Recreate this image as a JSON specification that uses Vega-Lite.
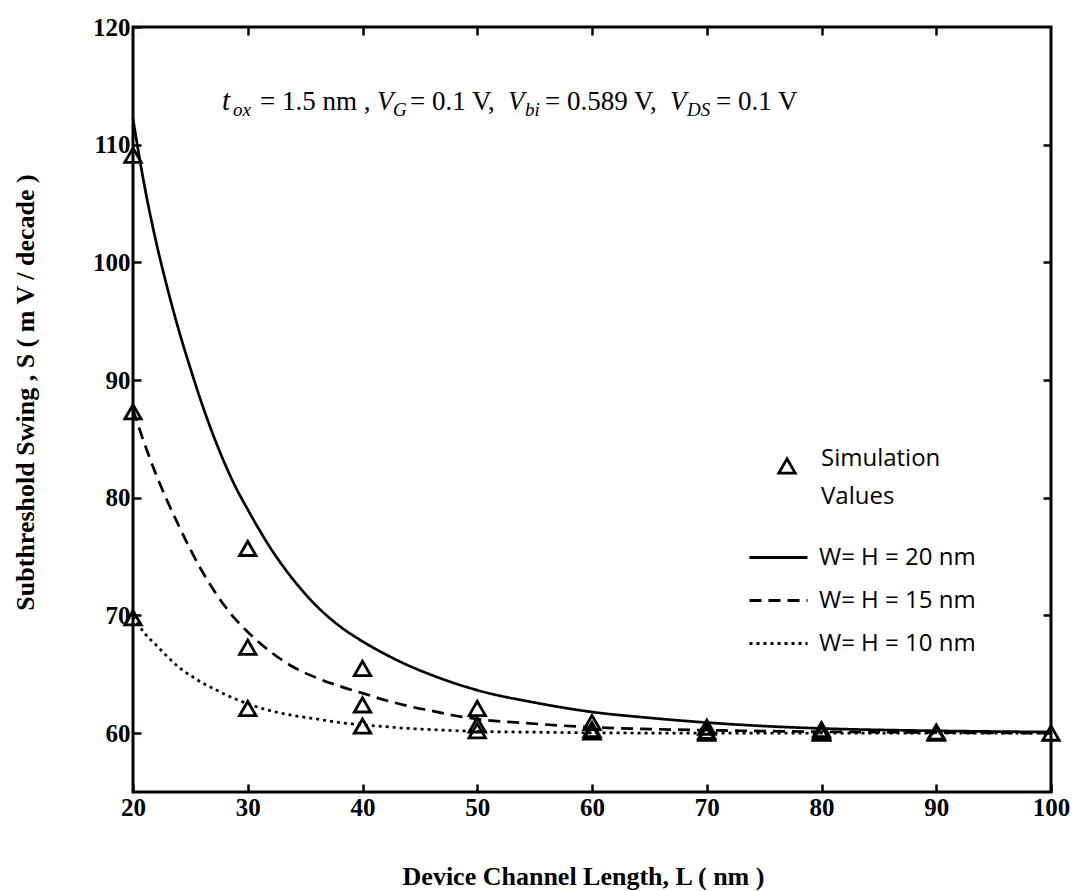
{
  "$schema": "https://vega.github.io/schema/vega-lite/v6.json",
  "width": 918,
  "height": 765,
  "autosize": {"type": "none"},
  "padding": {"left": 133, "top": 27, "right": 22, "bottom": 99},
  "background": "white",
  "config": {
    "view": {"stroke": "black", "strokeWidth": 3},
    "axis": {
      "domain": false,
      "grid": false,
      "tickColor": "black",
      "tickWidth": 2.5,
      "tickSize": -8,
      "labelFont": "Liberation Serif",
      "labelFontWeight": "bold",
      "labelFontSize": 25,
      "labelColor": "black",
      "titleFont": "Liberation Serif",
      "titleFontWeight": "bold",
      "titleColor": "black"
    },
    "legend": {"padding": 0},
    "style": {"guide-label": {"lineHeight": 38}}
  },
  "datasets": {
    "curves": [
      {"L": 20, "S": 112.2, "series": "W= H = 20 nm"},
      {"L": 21, "S": 106.5, "series": "W= H = 20 nm"},
      {"L": 22, "S": 101.8, "series": "W= H = 20 nm"},
      {"L": 23, "S": 97.8, "series": "W= H = 20 nm"},
      {"L": 24, "S": 94.2, "series": "W= H = 20 nm"},
      {"L": 25, "S": 91.0, "series": "W= H = 20 nm"},
      {"L": 26, "S": 88.0, "series": "W= H = 20 nm"},
      {"L": 27, "S": 85.3, "series": "W= H = 20 nm"},
      {"L": 28, "S": 82.9, "series": "W= H = 20 nm"},
      {"L": 29, "S": 80.8, "series": "W= H = 20 nm"},
      {"L": 30, "S": 79.0, "series": "W= H = 20 nm"},
      {"L": 32, "S": 75.7, "series": "W= H = 20 nm"},
      {"L": 34, "S": 73.0, "series": "W= H = 20 nm"},
      {"L": 36, "S": 70.8, "series": "W= H = 20 nm"},
      {"L": 38, "S": 69.1, "series": "W= H = 20 nm"},
      {"L": 40, "S": 67.8, "series": "W= H = 20 nm"},
      {"L": 42, "S": 66.7, "series": "W= H = 20 nm"},
      {"L": 44, "S": 65.75, "series": "W= H = 20 nm"},
      {"L": 46, "S": 64.95, "series": "W= H = 20 nm"},
      {"L": 48, "S": 64.25, "series": "W= H = 20 nm"},
      {"L": 50, "S": 63.65, "series": "W= H = 20 nm"},
      {"L": 55, "S": 62.6, "series": "W= H = 20 nm"},
      {"L": 60, "S": 61.8, "series": "W= H = 20 nm"},
      {"L": 65, "S": 61.3, "series": "W= H = 20 nm"},
      {"L": 70, "S": 60.9, "series": "W= H = 20 nm"},
      {"L": 75, "S": 60.6, "series": "W= H = 20 nm"},
      {"L": 80, "S": 60.4, "series": "W= H = 20 nm"},
      {"L": 90, "S": 60.2, "series": "W= H = 20 nm"},
      {"L": 100, "S": 60.1, "series": "W= H = 20 nm"},
      {"L": 20, "S": 87.5, "series": "W= H = 15 nm"},
      {"L": 21, "S": 84.6, "series": "W= H = 15 nm"},
      {"L": 22, "S": 82.0, "series": "W= H = 15 nm"},
      {"L": 23, "S": 79.7, "series": "W= H = 15 nm"},
      {"L": 24, "S": 77.6, "series": "W= H = 15 nm"},
      {"L": 25, "S": 75.6, "series": "W= H = 15 nm"},
      {"L": 26, "S": 73.8, "series": "W= H = 15 nm"},
      {"L": 27, "S": 72.2, "series": "W= H = 15 nm"},
      {"L": 28, "S": 70.8, "series": "W= H = 15 nm"},
      {"L": 29, "S": 69.6, "series": "W= H = 15 nm"},
      {"L": 30, "S": 68.6, "series": "W= H = 15 nm"},
      {"L": 32, "S": 66.9, "series": "W= H = 15 nm"},
      {"L": 34, "S": 65.6, "series": "W= H = 15 nm"},
      {"L": 36, "S": 64.7, "series": "W= H = 15 nm"},
      {"L": 38, "S": 64.0, "series": "W= H = 15 nm"},
      {"L": 40, "S": 63.4, "series": "W= H = 15 nm"},
      {"L": 42, "S": 62.8, "series": "W= H = 15 nm"},
      {"L": 44, "S": 62.3, "series": "W= H = 15 nm"},
      {"L": 46, "S": 61.9, "series": "W= H = 15 nm"},
      {"L": 48, "S": 61.5, "series": "W= H = 15 nm"},
      {"L": 50, "S": 61.2, "series": "W= H = 15 nm"},
      {"L": 55, "S": 60.8, "series": "W= H = 15 nm"},
      {"L": 60, "S": 60.5, "series": "W= H = 15 nm"},
      {"L": 65, "S": 60.35, "series": "W= H = 15 nm"},
      {"L": 70, "S": 60.25, "series": "W= H = 15 nm"},
      {"L": 80, "S": 60.12, "series": "W= H = 15 nm"},
      {"L": 90, "S": 60.05, "series": "W= H = 15 nm"},
      {"L": 100, "S": 60.0, "series": "W= H = 15 nm"},
      {"L": 20, "S": 69.9, "series": "W= H = 10 nm"},
      {"L": 21, "S": 68.5, "series": "W= H = 10 nm"},
      {"L": 22, "S": 67.5, "series": "W= H = 10 nm"},
      {"L": 23, "S": 66.5, "series": "W= H = 10 nm"},
      {"L": 24, "S": 65.6, "series": "W= H = 10 nm"},
      {"L": 25, "S": 64.9, "series": "W= H = 10 nm"},
      {"L": 26, "S": 64.3, "series": "W= H = 10 nm"},
      {"L": 27, "S": 63.8, "series": "W= H = 10 nm"},
      {"L": 28, "S": 63.3, "series": "W= H = 10 nm"},
      {"L": 30, "S": 62.5, "series": "W= H = 10 nm"},
      {"L": 32, "S": 61.9, "series": "W= H = 10 nm"},
      {"L": 34, "S": 61.5, "series": "W= H = 10 nm"},
      {"L": 36, "S": 61.2, "series": "W= H = 10 nm"},
      {"L": 38, "S": 60.9, "series": "W= H = 10 nm"},
      {"L": 40, "S": 60.7, "series": "W= H = 10 nm"},
      {"L": 42, "S": 60.55, "series": "W= H = 10 nm"},
      {"L": 44, "S": 60.4, "series": "W= H = 10 nm"},
      {"L": 46, "S": 60.3, "series": "W= H = 10 nm"},
      {"L": 50, "S": 60.15, "series": "W= H = 10 nm"},
      {"L": 55, "S": 60.08, "series": "W= H = 10 nm"},
      {"L": 60, "S": 60.03, "series": "W= H = 10 nm"},
      {"L": 70, "S": 60.0, "series": "W= H = 10 nm"},
      {"L": 80, "S": 60.0, "series": "W= H = 10 nm"},
      {"L": 90, "S": 60.0, "series": "W= H = 10 nm"},
      {"L": 100, "S": 60.0, "series": "W= H = 10 nm"}
    ],
    "sim": [
      {"L": 20, "S": 109.1, "kind": "Simulation Values"},
      {"L": 20, "S": 87.3, "kind": "Simulation Values"},
      {"L": 20, "S": 69.8, "kind": "Simulation Values"},
      {"L": 30, "S": 75.7, "kind": "Simulation Values"},
      {"L": 30, "S": 67.3, "kind": "Simulation Values"},
      {"L": 30, "S": 62.1, "kind": "Simulation Values"},
      {"L": 40, "S": 65.5, "kind": "Simulation Values"},
      {"L": 40, "S": 62.4, "kind": "Simulation Values"},
      {"L": 40, "S": 60.6, "kind": "Simulation Values"},
      {"L": 50, "S": 62.1, "kind": "Simulation Values"},
      {"L": 50, "S": 60.7, "kind": "Simulation Values"},
      {"L": 50, "S": 60.2, "kind": "Simulation Values"},
      {"L": 60, "S": 60.9, "kind": "Simulation Values"},
      {"L": 60, "S": 60.3, "kind": "Simulation Values"},
      {"L": 60, "S": 60.1, "kind": "Simulation Values"},
      {"L": 70, "S": 60.5, "kind": "Simulation Values"},
      {"L": 70, "S": 60.15, "kind": "Simulation Values"},
      {"L": 70, "S": 60.0, "kind": "Simulation Values"},
      {"L": 80, "S": 60.3, "kind": "Simulation Values"},
      {"L": 80, "S": 60.1, "kind": "Simulation Values"},
      {"L": 80, "S": 60.0, "kind": "Simulation Values"},
      {"L": 90, "S": 60.1, "kind": "Simulation Values"},
      {"L": 90, "S": 60.0, "kind": "Simulation Values"},
      {"L": 100, "S": 60.0, "kind": "Simulation Values"}
    ]
  },
  "layer": [
    {
      "data": {"name": "curves"},
      "mark": {"type": "line", "color": "black", "strokeWidth": 2.7, "interpolate": "monotone", "clip": true},
      "encoding": {
        "x": {
          "field": "L", "type": "quantitative",
          "scale": {"domain": [20, 100], "nice": false, "zero": false},
          "axis": {"orient": "bottom", "values": [20, 30, 40, 50, 60, 70, 80, 90, 100], "labelPadding": 11, "labelFlush": false, "title": "Device Channel Length, L ( nm )", "titleFontSize": 26, "titlePadding": 43, "titleX": 450}
        },
        "y": {
          "field": "S", "type": "quantitative",
          "scale": {"domain": [55, 120], "nice": false, "zero": false},
          "axis": {"orient": "left", "values": [60, 70, 80, 90, 100, 110, 120], "labelPadding": 11, "labelFlush": false, "title": "Subthreshold Swing , S ( m V / decade )", "titleFontSize": 26, "titlePadding": 54, "titleY": 365}
        },
        "strokeDash": {
          "field": "series", "type": "nominal",
          "scale": {"domain": ["W= H = 20 nm", "W= H = 15 nm", "W= H = 10 nm"], "range": [[1, 0], [12, 7], [3, 4]]},
          "legend": {
            "orient": "none", "legendX": 615, "legendY": 500, "title": null,
            "symbolType": "stroke", "symbolSize": 3364, "symbolStrokeWidth": 2.8, "symbolStrokeColor": "black",
            "labelFont": "Open Sans", "labelFontSize": 24, "labelColor": "black", "labelOffset": 10, "rowPadding": -1
          }
        }
      }
    },
    {
      "data": {"name": "sim"},
      "mark": {"type": "point", "filled": false, "color": "black", "opacity": 1, "strokeWidth": 2.8, "size": 270},
      "encoding": {
        "x": {"field": "L", "type": "quantitative", "axis": {"orient": "top", "values": [30, 40, 50, 60, 70, 80, 90], "labels": false, "title": null}},
        "y": {"field": "S", "type": "quantitative", "axis": {"orient": "right", "values": [60, 70, 80, 90, 100, 110], "labels": false, "title": null}},
        "shape": {
          "field": "kind", "type": "nominal",
          "scale": {"domain": ["Simulation Values"], "range": ["triangle-up"]},
          "legend": {
            "orient": "none", "legendX": 642, "legendY": 427, "title": null,
            "symbolSize": 270, "symbolStrokeWidth": 2.8, "symbolStrokeColor": "black", "symbolFillColor": "transparent", "symbolOpacity": 1,
            "labelFont": "Open Sans", "labelFontSize": 24, "labelColor": "black", "labelOffset": 22, "labelBaseline": "alphabetic",
            "labelExpr": "['Simulation', 'Values']"
          }
        }
      }
    },
    {
      "data": {"values": [{}]},
      "mark": {"type": "text", "align": "left", "baseline": "alphabetic", "font": "Liberation Serif", "fontSize": 29, "fontStyle": "italic", "text": "t"},
      "encoding": {"x": {"datum": 27.76, "axis": null}, "y": {"datum": 112.95, "axis": null}}
    },
    {
      "data": {"values": [{}]},
      "mark": {"type": "text", "align": "left", "baseline": "alphabetic", "font": "Liberation Serif", "fontSize": 19, "fontStyle": "italic", "text": "ox"},
      "encoding": {"x": {"datum": 28.72, "axis": null}, "y": {"datum": 112.4, "axis": null}}
    },
    {
      "data": {"values": [{}]},
      "mark": {"type": "text", "align": "left", "baseline": "alphabetic", "font": "Liberation Serif", "fontSize": 27, "text": "= 1.5 nm ,"},
      "encoding": {"x": {"datum": 31.07, "axis": null}, "y": {"datum": 112.95, "axis": null}}
    },
    {
      "data": {"values": [{}]},
      "mark": {"type": "text", "align": "left", "baseline": "alphabetic", "font": "Liberation Serif", "fontSize": 27, "fontStyle": "italic", "text": "V"},
      "encoding": {"x": {"datum": 41.26, "axis": null}, "y": {"datum": 112.95, "axis": null}}
    },
    {
      "data": {"values": [{}]},
      "mark": {"type": "text", "align": "left", "baseline": "alphabetic", "font": "Liberation Serif", "fontSize": 19, "fontStyle": "italic", "text": "G"},
      "encoding": {"x": {"datum": 42.66, "axis": null}, "y": {"datum": 112.4, "axis": null}}
    },
    {
      "data": {"values": [{}]},
      "mark": {"type": "text", "align": "left", "baseline": "alphabetic", "font": "Liberation Serif", "fontSize": 27, "text": "= 0.1 V,"},
      "encoding": {"x": {"datum": 44.14, "axis": null}, "y": {"datum": 112.95, "axis": null}}
    },
    {
      "data": {"values": [{}]},
      "mark": {"type": "text", "align": "left", "baseline": "alphabetic", "font": "Liberation Serif", "fontSize": 27, "fontStyle": "italic", "text": "V"},
      "encoding": {"x": {"datum": 52.68, "axis": null}, "y": {"datum": 112.95, "axis": null}}
    },
    {
      "data": {"values": [{}]},
      "mark": {"type": "text", "align": "left", "baseline": "alphabetic", "font": "Liberation Serif", "fontSize": 19, "fontStyle": "italic", "text": "bi"},
      "encoding": {"x": {"datum": 54.16, "axis": null}, "y": {"datum": 112.4, "axis": null}}
    },
    {
      "data": {"values": [{}]},
      "mark": {"type": "text", "align": "left", "baseline": "alphabetic", "font": "Liberation Serif", "fontSize": 27, "text": "= 0.589 V,"},
      "encoding": {"x": {"datum": 55.9, "axis": null}, "y": {"datum": 112.95, "axis": null}}
    },
    {
      "data": {"values": [{}]},
      "mark": {"type": "text", "align": "left", "baseline": "alphabetic", "font": "Liberation Serif", "fontSize": 27, "fontStyle": "italic", "text": "V"},
      "encoding": {"x": {"datum": 66.8, "axis": null}, "y": {"datum": 112.95, "axis": null}}
    },
    {
      "data": {"values": [{}]},
      "mark": {"type": "text", "align": "left", "baseline": "alphabetic", "font": "Liberation Serif", "fontSize": 19, "fontStyle": "italic", "text": "DS"},
      "encoding": {"x": {"datum": 68.28, "axis": null}, "y": {"datum": 112.4, "axis": null}}
    },
    {
      "data": {"values": [{}]},
      "mark": {"type": "text", "align": "left", "baseline": "alphabetic", "font": "Liberation Serif", "fontSize": 27, "text": "= 0.1 V"},
      "encoding": {"x": {"datum": 70.81, "axis": null}, "y": {"datum": 112.95, "axis": null}}
    }
  ],
  "resolve": {"axis": {"x": "independent", "y": "independent"}}
}
